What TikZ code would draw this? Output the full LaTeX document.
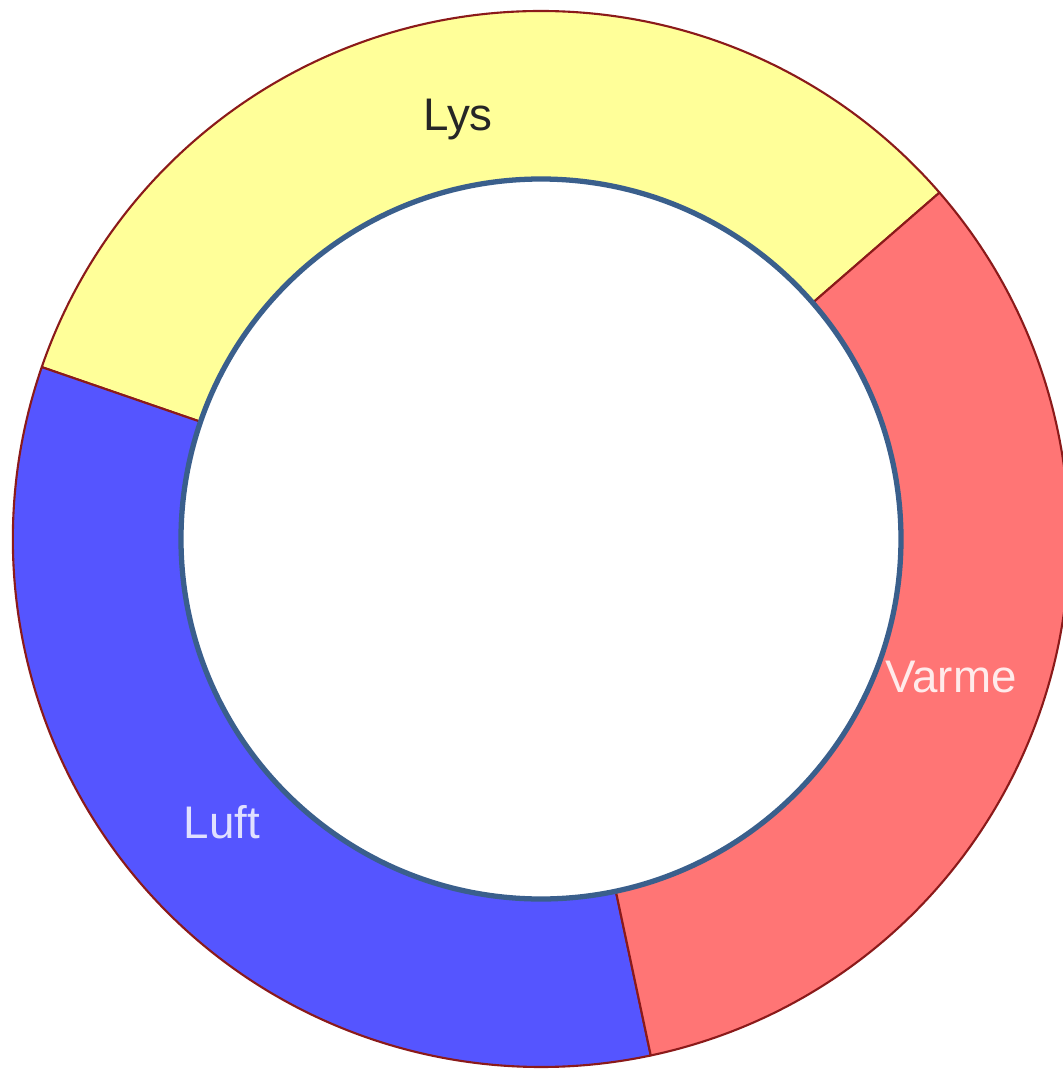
\documentclass[tikz,border=0pt]{standalone}
\usepackage{fontspec}
\setmainfont{Liberation Sans}
\definecolor{lysgul}{HTML}{FFFF99}
\definecolor{varmerod}{HTML}{FF7575}
\definecolor{luftbla}{HTML}{5555FF}
\definecolor{kant}{HTML}{8B1A1A}
\definecolor{ringkant}{HTML}{3A5F8C}

\tikzstyle{sektor} = [draw=kant, line width=0.6pt, line join=round]
\tikzstyle{hull} = [draw=ringkant, fill=white, line width=1.5pt]
\tikzstyle{etikett} = [font=\fontsize{13}{15}\selectfont, inner sep=0pt]

\begin{document}
\begin{tikzpicture}
\useasboundingbox (-5.41,-5.31) rectangle (5.22,5.39);
\def\ytre{5.28}
\def\indre{3.60}
% ringen, en sektor per del
\foreach \fra/\til/\farge in {41/161/lysgul, 161/282/luftbla, 282/401/varmerod}{
  \filldraw[sektor, fill=\farge] (\fra:\ytre) arc[start angle=\fra, end angle=\til, radius=\ytre]
    -- (\til:\indre) arc[start angle=\til, end angle=\fra, radius=\indre] -- cycle;
}
\draw[hull] (0,0) circle (\indre);
\node[etikett, text=black!85] (lys) at (-0.83,4.19) {Lys};
\node[etikett, text=red!8] (varme) at (4.10,-1.38) {Varme};
\node[etikett, text=blue!12] (luft) at (-3.19,-2.83) {Luft};
\end{tikzpicture}
\end{document}
